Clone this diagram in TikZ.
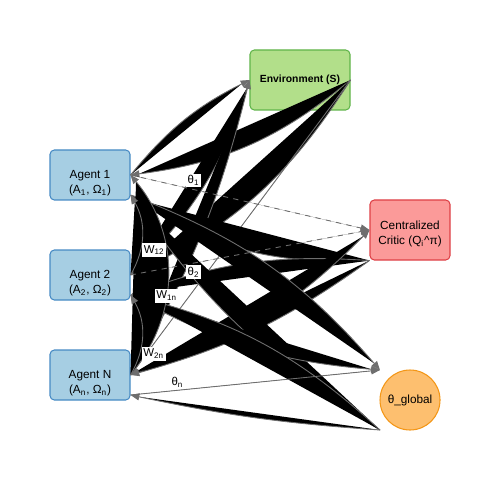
\documentclass[tikz,border=0pt]{standalone}
\usepackage{fontspec}
\setmainfont{Liberation Sans}
\usetikzlibrary{arrows.meta,calc}

\definecolor{agentfill}{RGB}{166,206,227}
\definecolor{agentline}{RGB}{70,138,196}
\definecolor{envfill}{RGB}{178,223,138}
\definecolor{envline}{RGB}{96,180,74}
\definecolor{criticfill}{RGB}{251,154,153}
\definecolor{criticline}{RGB}{222,64,70}
\definecolor{globalfill}{RGB}{253,191,111}
\definecolor{globalline}{RGB}{243,150,22}
\definecolor{linkgray}{RGB}{110,110,110}

\begin{document}
\begin{tikzpicture}[auto, >={Triangle[length=5pt,width=4pt]},
    box/.style={rounded corners=2.5pt, line width=0.6pt, align=center,
      font=\fontsize{6.7}{8.6}\selectfont},
    agent/.style={box, draw=agentline, fill=agentfill, inner ysep=1pt,
      minimum width=1.6cm, minimum height=1cm},
    env/.style={box, draw=envline, fill=envfill, font=\fontsize{5.9}{8}\selectfont\bfseries,
      minimum width=2cm, minimum height=1.2cm},
    critic/.style={box, draw=criticline, fill=criticfill, inner ysep=1pt,
      minimum width=1.6cm, minimum height=1.2cm},
    global/.style={circle, draw=globalline, fill=globalfill, line width=0.6pt,
      minimum size=1.2cm, inner sep=0pt, font=\fontsize{6.7}{8.6}\selectfont},
    link/.style={->, draw=linkgray, fill=black, line width=0.5pt},
    tag/.style={font=\fontsize{6.5}{7}\selectfont, inner sep=1pt, fill=white}]
  \useasboundingbox (0,0) rectangle (10,-10);

  \node[agent] (a1) at (1.8,-3.5) {\rule{0pt}{14pt}Agent 1\\(A\textsubscript{1}, Ω\textsubscript{1})};
  \node[agent] (a2) at (1.8,-5.5) {\rule{0pt}{14pt}Agent 2\\(A\textsubscript{2}, Ω\textsubscript{2})};
  \node[agent] (an) at (1.8,-7.5) {\rule{0pt}{14pt}Agent N\\(A\textsubscript{n}, Ω\textsubscript{n})};
  \node[env] (env) at (6,-1.6) {Environment (S)};
  \node[critic] (critic) at (8.2,-4.6) {\rule{0pt}{9.5pt}Centralized\\Critic (Q\textsubscript{i}\textasciicircum π)};
  \node[global] (glob) at (8.2,-8) {θ\_global};

  % second ports
  \coordinate (a1b) at ($(a1.east)+(0,-0.4)$);
  \coordinate (a2b) at ($(a2.east)+(0,-0.4)$);
  \coordinate (anb) at ($(an.east)+(0,-0.4)$);
  \coordinate (gtop) at ($(glob.center)+(-0.6,0.6)$);
  \coordinate (gbot) at ($(glob.center)+(-0.6,-0.6)$);

  % environment
  \draw[link] (a1.east) to[bend left=12] (env.west);
  \draw[link] (env.east) to[bend left=16] (a1.east);
  \draw[link] (a2.east) to[bend right=14] (env.west);
  \draw[link] (env.east) to[bend left=16] (a2.east);
  \draw[link] (an.east) to[bend right=8] (env.west);
  \draw[link] (env.east) to (an.east);

  % critic
  \draw[link] (critic.south west) to[bend left=18] (a1b);
  \draw[link] (critic.south west) to[bend right=12] (a2b);
  \draw[link] (an.east) to[bend right=14] (critic.west);
  \draw[link] (critic.south west) to[bend left=10] (an.east);

  % global parameters
  \draw[link] (a1b) to[bend left=14] (gtop);
  \draw[link] (gbot) to[bend left=12] (a1b);
  \draw[link] (a2b) to[bend right=12] (gtop);
  \draw[link] (gbot) to[bend right=14] (a2b);
  \draw[link] (gbot) to[bend left=4] (anb);

  % communication
  \draw[link] (an.east) to[bend right=40] node[tag, auto=false, pos=0.4] {W\textsubscript{1n}} (a1.east);
  \draw[link] (a2.east) to[bend right=30] node[tag, swap, pos=0.4] {W\textsubscript{12}} (a1b);
  \draw[link] (an.east) to[bend right=30] node[tag, swap, pos=0.35] {W\textsubscript{2n}} (a2b);

  % parameters
  \draw[link, dashed] (a1.east) to node[tag, pos=0.23] {θ\textsubscript{1}} (critic.west);
  \draw[link, dashed] (a2.east) to node[tag, pos=0.23, swap] {θ\textsubscript{2}} (critic.west);
  \draw[link] (anb) to node[tag, pos=0.22] {θ\textsubscript{n}} (gtop);
\end{tikzpicture}
\end{document}
